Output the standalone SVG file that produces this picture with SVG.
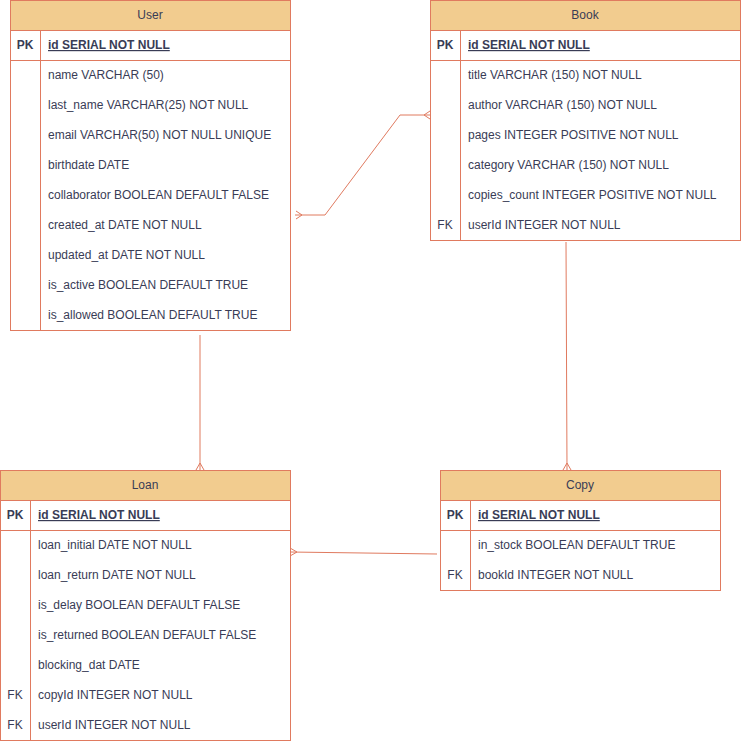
<svg xmlns="http://www.w3.org/2000/svg" width="741" height="741" viewBox="0 0 741 741">
  <defs>
    <style>
      .box { fill: #ffffff; stroke: #E07A5F; stroke-width: 1; }
      .head { fill: #F2CC8F; stroke: #E07A5F; stroke-width: 1; }
      .sep { stroke: #E07A5F; stroke-width: 1; fill: none; }
      text { font-family: "Liberation Sans", Arial, Helvetica, sans-serif; font-size: 12px; fill: #393C56; }
      .title { text-anchor: middle; }
      .key { font-weight: bold; text-anchor: middle; }
      .fk { text-anchor: middle; }
      .pk { font-weight: bold; text-decoration: underline; }
      .edge { stroke: #E07A5F; stroke-width: 1; fill: none; }
    </style>
  </defs>

  <!-- relationships -->
  <g id="connectors">
    <path class="edge" d="M295,215 L325,215 L400,115 L430,115"/>
    <path class="edge" d="M200,335 L200,470"/>
    <path class="edge" d="M566,242 L567,470"/>
    <path class="edge" d="M437,554 L290,552"/>
    <!-- crow's feet -->
    <path class="edge" d="M296,211 L302,215 L296,219"/>
    <path class="edge" d="M430,111 L424,115 L430,119"/>
    <path class="edge" d="M196,470 L200,463 L204,470"/>
    <path class="edge" d="M563,470 L567,463 L571,470"/>
    <path class="edge" d="M290,548 L297,552 L290,556"/>
  </g>

  <!-- User table -->
  <g id="user">
    <rect class="head" x="10.5" y="0.5" width="280" height="30"/>
    <rect class="box" x="10.5" y="30.5" width="280" height="300"/>
    <line class="sep" x1="10.5" y1="60.5" x2="290.5" y2="60.5"/>
    <line class="sep" x1="40.5" y1="30.5" x2="40.5" y2="330.5"/>
    <text class="title" x="150" y="19">User</text>
    <text class="key" x="25" y="49">PK</text>
    <text class="pk" x="48" y="49">id SERIAL NOT NULL</text>
    <text x="48" y="79">name VARCHAR (50)</text>
    <text x="48" y="109">last_name VARCHAR(25) NOT NULL</text>
    <text x="48" y="139">email VARCHAR(50) NOT NULL UNIQUE</text>
    <text x="48" y="169">birthdate DATE</text>
    <text x="48" y="199">collaborator BOOLEAN DEFAULT FALSE</text>
    <text x="48" y="229">created_at DATE NOT NULL</text>
    <text x="48" y="259">updated_at DATE NOT NULL</text>
    <text x="48" y="289">is_active BOOLEAN DEFAULT TRUE</text>
    <text x="48" y="319">is_allowed BOOLEAN DEFAULT TRUE</text>
  </g>

  <!-- Book table -->
  <g id="book">
    <rect class="head" x="430.5" y="0.5" width="310" height="30"/>
    <rect class="box" x="430.5" y="30.5" width="310" height="210"/>
    <line class="sep" x1="430.5" y1="60.5" x2="740.5" y2="60.5"/>
    <line class="sep" x1="460.5" y1="30.5" x2="460.5" y2="240.5"/>
    <text class="title" x="585" y="19">Book</text>
    <text class="key" x="445" y="49">PK</text>
    <text class="pk" x="468" y="49">id SERIAL NOT NULL</text>
    <text x="468" y="79">title VARCHAR (150) NOT NULL</text>
    <text x="468" y="109">author VARCHAR (150) NOT NULL</text>
    <text x="468" y="139">pages INTEGER POSITIVE NOT NULL</text>
    <text x="468" y="169">category VARCHAR (150) NOT NULL</text>
    <text x="468" y="199">copies_count INTEGER POSITIVE NOT NULL</text>
    <text class="fk" x="445" y="229">FK</text>
    <text x="468" y="229">userId INTEGER NOT NULL</text>
  </g>

  <!-- Loan table -->
  <g id="loan">
    <rect class="head" x="0.5" y="470.5" width="290" height="30"/>
    <rect class="box" x="0.5" y="500.5" width="290" height="240"/>
    <line class="sep" x1="0.5" y1="530.5" x2="290.5" y2="530.5"/>
    <line class="sep" x1="30.5" y1="500.5" x2="30.5" y2="740.5"/>
    <text class="title" x="145" y="489">Loan</text>
    <text class="key" x="15" y="519">PK</text>
    <text class="pk" x="38" y="519">id SERIAL NOT NULL</text>
    <text x="38" y="549">loan_initial DATE NOT NULL</text>
    <text x="38" y="579">loan_return DATE NOT NULL</text>
    <text x="38" y="609">is_delay BOOLEAN DEFAULT FALSE</text>
    <text x="38" y="639">is_returned BOOLEAN DEFAULT FALSE</text>
    <text x="38" y="669">blocking_dat DATE</text>
    <text class="fk" x="15" y="699">FK</text>
    <text x="38" y="699">copyId INTEGER NOT NULL</text>
    <text class="fk" x="15" y="729">FK</text>
    <text x="38" y="729">userId INTEGER NOT NULL</text>
  </g>

  <!-- Copy table -->
  <g id="copy">
    <rect class="head" x="440.5" y="470.5" width="280" height="30"/>
    <rect class="box" x="440.5" y="500.5" width="280" height="90"/>
    <line class="sep" x1="440.5" y1="530.5" x2="720.5" y2="530.5"/>
    <line class="sep" x1="470.5" y1="500.5" x2="470.5" y2="590.5"/>
    <text class="title" x="580" y="489">Copy</text>
    <text class="key" x="455" y="519">PK</text>
    <text class="pk" x="478" y="519">id SERIAL NOT NULL</text>
    <text x="478" y="549">in_stock BOOLEAN DEFAULT TRUE</text>
    <text class="fk" x="455" y="579">FK</text>
    <text x="478" y="579">bookId INTEGER NOT NULL</text>
  </g>
</svg>
